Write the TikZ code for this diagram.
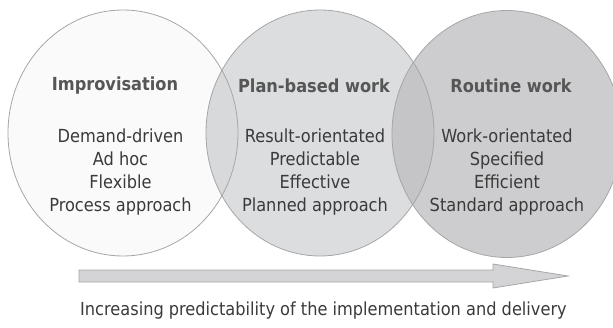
\documentclass[tikz,border=0pt]{standalone}
\usepackage{fontspec}
\setmainfont{DejaVu Sans Condensed}
\begin{document}
\begin{tikzpicture}[x=1pt,y=1pt,
  ring/.style={draw=ringline, line width=0.8pt},
  heading/.style={font={\fontsize{18}{22}\selectfont\bfseries}, text=headtext, inner sep=0pt},
  body/.style={font={\fontsize{18}{22.7}\selectfont}, text=bodytext, align=center, inner sep=0pt},
]
\definecolor{ringline}{HTML}{A6A6A8}
\definecolor{leftfill}{HTML}{FAFAFA}
\definecolor{midfill}{HTML}{DCDDDF}
\definecolor{rightfill}{HTML}{CDCDCF}
\definecolor{lmfill}{HTML}{D8D9DB}
\definecolor{mrfill}{HTML}{C5C5C7}
\definecolor{arrowfill}{HTML}{D4D4D6}
\definecolor{bodytext}{HTML}{3A3A3A}
\definecolor{headtext}{HTML}{565656}

\useasboundingbox (0,0) rectangle (613,327);
\clip (0,0) rectangle (613,327);

% three overlapping work-mode circles
\coordinate (cl) at (123,194);
\coordinate (cm) at (320,194);
\coordinate (cr) at (507,193);
\fill[leftfill] (cl) ellipse [x radius=115, y radius=123];
\fill[midfill] (cm) ellipse [x radius=114, y radius=123];
\fill[rightfill] (cr) ellipse [x radius=115, y radius=123.5];
\begin{scope}
  \clip (cl) ellipse [x radius=115, y radius=123];
  \fill[lmfill] (cm) ellipse [x radius=114, y radius=123];
\end{scope}
\begin{scope}
  \clip (cm) ellipse [x radius=114, y radius=123];
  \fill[mrfill] (cr) ellipse [x radius=115, y radius=123.5];
\end{scope}
\draw[ring] (cl) ellipse [x radius=115, y radius=123];
\draw[ring] (cm) ellipse [x radius=114, y radius=123];
\draw[ring] (cr) ellipse [x radius=115, y radius=123.5];

% headings
\node[heading] (h1) at (115,241) {Improvisation};
\node[heading] (h2) at (314,241) {Plan-based work};
\node[heading] (h3) at (511,241) {Routine work};

% characteristics
\node[body] (b1) at (120.5,155) {Demand-driven\\Ad hoc\\Flexible\\Process approach};
\node[body] (b2) at (315,155) {Result-orientated\\Predictable\\Effective\\Planned approach};
\node[body] (b3) at (507,155) {Work-orientated\\Specified\\Efficient\\Standard approach};

% direction arrow
\draw[draw=ringline, fill=arrowfill, line width=0.8pt]
  (79,45) -- (493,45) -- (493,39) -- (568,51) -- (493,63) -- (493,57) -- (79,57) -- cycle;

\node[font={\fontsize{18}{22}\selectfont}, text=bodytext, anchor=west, inner sep=0pt] (cap) at (80,16)
  {Increasing predictability of the implementation and delivery};
\end{tikzpicture}
\end{document}
